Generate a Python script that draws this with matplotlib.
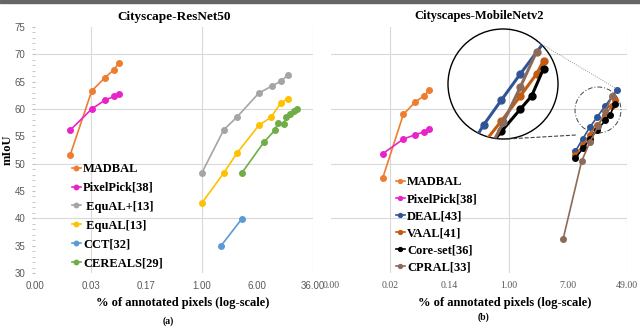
import numpy as np
import matplotlib
matplotlib.use('Agg')
import matplotlib.pyplot as plt
from matplotlib.patches import Circle, Rectangle
from matplotlib.lines import Line2D

#==============================================================================
# Data
#==============================================================================
# (a) Cityscape-ResNet50
madbal_a_x = [0.0143, 0.0288, 0.0438, 0.059, 0.069]
madbal_a_y = [51.5, 63.3, 65.7, 67.2, 68.4]
pixelpick_a_x = [0.0143, 0.0288, 0.0438, 0.059, 0.069]
pixelpick_a_y = [56.1, 60.0, 61.6, 62.3, 62.8]
equalp_x = [1.0, 2.03, 3.09, 6.28, 9.55, 12.8, 16.0]
equalp_y = [48.3, 56.2, 58.5, 62.9, 64.2, 65.1, 66.2]
equal_x = [1.0, 2.03, 3.09, 6.28, 9.3, 12.8, 16.0]
equal_y = [42.8, 48.3, 51.9, 57.0, 58.5, 61.1, 61.9]
cct_x = [1.84, 3.63]
cct_y = [34.9, 39.9]
cereals_x = [3.63, 7.37, 10.5, 11.6, 14.0, 15.0, 17.1, 19.4, 21.4]
cereals_y = [48.3, 53.9, 56.1, 57.4, 57.2, 58.5, 59.0, 59.6, 60.0]

# (b) Cityscapes-MobileNetv2
madbal_b_x = [0.0159, 0.0314, 0.0466, 0.062, 0.073]
madbal_b_y = [47.3, 59.0, 61.3, 62.4, 63.4]
pixelpick_b_x = [0.0159, 0.0314, 0.0466, 0.062, 0.073]
pixelpick_b_y = [51.8, 54.5, 55.3, 55.8, 56.3]
deal_x = [9.0, 11.5, 14.5, 18.5, 24.0, 35.0]
deal_y = [52.3, 54.6, 56.7, 58.6, 60.6, 63.4]
vaal_x = [9.0, 11.5, 14.5, 18.5, 24.0, 30.0, 33.0]
vaal_y = [51.6, 53.4, 55.3, 57.0, 58.9, 60.6, 61.6]
coreset_x = [9.0, 11.5, 14.5, 18.5, 24.0, 28.0, 33.0]
coreset_y = [51.0, 52.8, 54.5, 56.2, 57.9, 58.9, 61.0]
cpral_x = [6.0, 11.0, 14.5, 19.0, 24.0, 30.0]
cpral_y = [36.2, 50.4, 54.0, 56.9, 59.6, 62.3]

#==============================================================================
# Style
#==============================================================================
serif = 'Liberation Serif'
sans = 'Liberation Sans'
tick_grey = '#595959'
grid_grey = '#D9D9D9'

W, H = 640, 331
fig = plt.figure(figsize=(W / 100, H / 100), dpi=100)
fig.patches.append(Rectangle((0, 1 - 3 / H), 1, 3 / H, transform=fig.transFigure,
                             color='#666666', zorder=0))

def px_box(x0, y0, x1, y1):
    return [x0 / W, 1 - y1 / H, (x1 - x0) / W, (y1 - y0) / H]

def setup_axis(ax, base, grid_x):
    ax.set_xscale('log', base=base)
    ax.set_xlim(base ** -3, base ** 2)
    ax.set_ylim(30, 75)
    for s in ax.spines.values():
        s.set_visible(False)
    for v in [40, 50, 60, 70]:
        ax.axhline(v, color=grid_grey, lw=0.8, zorder=0)
    for v in grid_x:
        ax.axvline(v, color=grid_grey, lw=0.8, zorder=0)
    ticks = [base ** k for k in range(-3, 3)]
    ax.set_xticks(ticks)
    ax.set_xticklabels(['%.2f' % t for t in ticks])
    ax.minorticks_off()
    ax.tick_params(axis='x', length=0, pad=6, labelsize=7, labelcolor=tick_grey)

def series(ax, x, y, color, label, lw=1.2, ms=4):
    ax.plot(x, y, color=color, lw=lw, marker='o', ms=ms, label=label)

#==============================================================================
# (a) Cityscape-ResNet50
#==============================================================================
ax1 = fig.add_axes(px_box(35, 27, 313, 273))
setup_axis(ax1, 6, [6 ** -2, 1, 36])
ax1.set_yticks(range(30, 80, 5))
ax1.set_yticks(range(30, 76), minor=True)
ax1.tick_params(axis='y', which='both', length=2, color='#BFBFBF', labelsize=7,
                labelcolor=tick_grey, pad=5)
for lab in ax1.get_xticklabels() + ax1.get_yticklabels():
    lab.set_family(sans)

series(ax1, madbal_a_x, madbal_a_y, '#ED7D31', 'MADBAL')
series(ax1, pixelpick_a_x, pixelpick_a_y, '#E824C8', 'PixelPick[38]')
series(ax1, equalp_x, equalp_y, '#A5A5A5', ' EquAL+[13]')
series(ax1, equal_x, equal_y, '#FFC000', ' EquAL[13]')
series(ax1, cct_x, cct_y, '#5B9BD5', 'CCT[32]')
series(ax1, cereals_x, cereals_y, '#70AD47', 'CEREALS[29]')

ax1.set_title('Cityscape-ResNet50', family=serif, fontweight='bold', fontsize=9.5, pad=5)
fig.text(8 / W, 1 - 150 / H, 'mIoU', rotation=90, ha='center', va='center',
         family=serif, fontweight='bold', fontsize=9)
ax1.legend(loc='upper left', bbox_to_anchor=(72 / W, 1 - 163 / H),
           bbox_transform=fig.transFigure, frameon=False, borderpad=0,
           handlelength=0.7, handletextpad=0.2, labelspacing=0.55, borderaxespad=0,
           markerscale=0.8, prop={'family': serif, 'weight': 'bold', 'size': 9})

#==============================================================================
# (b) Cityscapes-MobileNetv2
#==============================================================================
ax2 = fig.add_axes(px_box(331, 27, 627, 273))
setup_axis(ax2, 7, [7 ** -2, 1, 49])
ax2.set_yticks([])
for lab in ax2.get_xticklabels():
    lab.set_family(serif)

b_series = [
    (madbal_b_x, madbal_b_y, '#ED7D31', 'MADBAL'),
    (pixelpick_b_x, pixelpick_b_y, '#E824C8', 'PixelPick[38]'),
    (deal_x, deal_y, '#2F5597', 'DEAL[43]'),
    (vaal_x, vaal_y, '#C55A11', 'VAAL[41]'),
    (coreset_x, coreset_y, '#000000', 'Core-set[36]'),
    (cpral_x, cpral_y, '#8C6A5A', 'CPRAL[33]'),
]
for x, y, c, lab in b_series:
    series(ax2, x, y, c, lab)

ax2.set_title('Cityscapes-MobileNetv2', family=serif, fontweight='bold', fontsize=9, pad=6)
ax2.legend(loc='upper left', bbox_to_anchor=(396 / W, 1 - 176 / H),
           bbox_transform=fig.transFigure, frameon=False, borderpad=0,
           handlelength=0.7, handletextpad=0.2, labelspacing=0.41, borderaxespad=0,
           markerscale=0.7, prop={'family': serif, 'weight': 'bold', 'size': 9})

# axis labels and panel tags
fig.text(183 / W, 1 - 303 / H, '% of annotated pixels (log-scale)', ha='center', va='center',
         family=serif, fontweight='bold', fontsize=9)
fig.text(505 / W, 1 - 303 / H, '% of annotated pixels (log-scale)', ha='center', va='center',
         family=serif, fontweight='bold', fontsize=9)
fig.text(168 / W, 1 - 321 / H, '(a)', ha='center', va='center', family=serif,
         fontweight='bold', fontsize=7)
fig.text(483 / W, 1 - 317 / H, '(b)', ha='center', va='center', family=serif,
         fontweight='bold', fontsize=7)

#==============================================================================
# Magnified inset of the crowded corner in (b)
#==============================================================================
zc_x, zc_y, zr = 598, 110, 23      # dashed circle (pixels from top-left)
bc_x, bc_y, br = 503, 84, 55       # big circle

fig.canvas.draw()
inv = ax2.transData.inverted()
(x_lo, y_lo), (x_hi, y_hi) = inv.transform([(zc_x - zr, H - zc_y - zr),
                                            (zc_x + zr, H - zc_y + zr)])

axin = fig.add_axes(px_box(bc_x - br, bc_y - br, bc_x + br, bc_y + br))
axin.set_xscale('log', base=7)
axin.set_xlim(x_lo, x_hi)
axin.set_ylim(y_lo, y_hi)
axin.patch.set_alpha(0)
axin.axis('off')
clip = Circle((0.5, 0.5), 0.5, transform=axin.transAxes)
for x, y, c, lab in b_series[2:]:
    ln, = axin.plot(x, y, color=c, lw=2.2, marker='o', ms=5)
    ln.set_clip_path(clip)
axin.add_patch(Circle((0.5, 0.5), 0.5, transform=axin.transAxes, fill=False,
                      edgecolor='black', lw=1.0, clip_on=False))

ax2.add_patch(Circle((zc_x, H - zc_y), zr, transform=None, fill=False,
                     edgecolor='#444444', lw=0.7, linestyle=(0, (5, 2, 1, 2))))

fig.lines.append(Line2D([538 / W, 617 / W], [1 - 42 / H, 1 - 89 / H],
                        transform=fig.transFigure, color='#777777', lw=0.6, ls=':'))
fig.lines.append(Line2D([507 / W, 576 / W], [1 - 139 / H, 1 - 135 / H],
                        transform=fig.transFigure, color='#444444', lw=0.8, ls='--'))

plt.savefig('out.png', dpi=100)
